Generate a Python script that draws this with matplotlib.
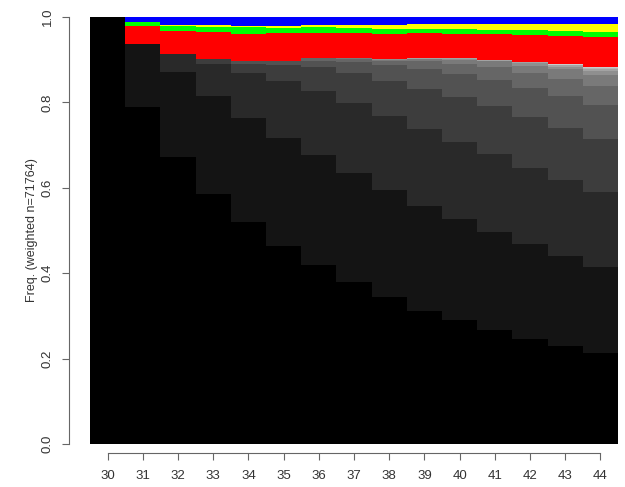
import matplotlib
matplotlib.use('Agg')
import numpy as np
import matplotlib.pyplot as plt

plt.rcParams['font.family'] = ['Liberation Sans', 'DejaVu Sans']

ages = list(range(30, 45))

# cumulative share at the top of each grey state (state 0 = black), by age
grey_tops = [
    [1.0],
    [0.789, 0.937],
    [0.671, 0.871, 0.913],
    [0.585, 0.814, 0.889, 0.902],
    [0.520, 0.763, 0.868, 0.891, 0.898],
    [0.464, 0.717, 0.849, 0.888, 0.896, 0.898],
    [0.419, 0.677, 0.827, 0.884, 0.898, 0.903, 0.905],
    [0.380, 0.635, 0.798, 0.870, 0.895, 0.902, 0.904, 0.905],
    [0.344, 0.595, 0.767, 0.851, 0.888, 0.897, 0.900, 0.901, 0.901],
    [0.312, 0.557, 0.738, 0.831, 0.878, 0.898, 0.901, 0.902, 0.903, 0.903],
    [0.290, 0.526, 0.708, 0.813, 0.867, 0.889, 0.900, 0.902, 0.903, 0.903, 0.903],
    [0.267, 0.497, 0.678, 0.792, 0.852, 0.882, 0.896, 0.898, 0.899, 0.899, 0.899, 0.899],
    [0.247, 0.468, 0.647, 0.765, 0.834, 0.868, 0.886, 0.892, 0.894, 0.894, 0.894, 0.894, 0.894],
    [0.230, 0.440, 0.618, 0.739, 0.816, 0.855, 0.878, 0.884, 0.887, 0.888, 0.889, 0.889, 0.889, 0.889],
    [0.212, 0.415, 0.589, 0.714, 0.794, 0.839, 0.863, 0.874, 0.879, 0.881, 0.882, 0.882, 0.882, 0.882, 0.882],
]

# cumulative share at the top of the coloured states
red_top = [1.0, 0.980, 0.968, 0.964, 0.961, 0.962, 0.962, 0.962, 0.961, 0.962, 0.960, 0.960, 0.958, 0.956, 0.953]
green_top = [1.0, 0.989, 0.980, 0.977, 0.977, 0.975, 0.977, 0.974, 0.973, 0.972, 0.972, 0.970, 0.970, 0.967, 0.964]
yellow_top = [1.0, 0.989, 0.981, 0.981, 0.980, 0.980, 0.981, 0.981, 0.981, 0.984, 0.983, 0.983, 0.983, 0.983, 0.983]

n_grey = max(len(t) for t in grey_tops)
x = np.arange(len(ages))

fig = plt.figure(figsize=(6.25, 4.87), dpi=100)
ax = fig.add_axes([90 / 625, 43 / 487, 528 / 625, 427 / 487])

# grey states, stacked from the bottom
for k in range(n_grey):
    xs, bots, hts = [], [], []
    for i, tops in enumerate(grey_tops):
        if k < len(tops):
            lo = tops[k - 1] if k > 0 else 0.0
            xs.append(x[i])
            bots.append(lo)
            hts.append(tops[k] - lo)
    g = min(k * 20.4, 235) / 255
    ax.bar(xs, hts, bottom=bots, width=1.0, color=(g, g, g), linewidth=0)

grey_end = np.array([t[-1] for t in grey_tops])
red_top = np.array(red_top)
green_top = np.array(green_top)
yellow_top = np.array(yellow_top)

ax.bar(x, red_top - grey_end, bottom=grey_end, width=1.0, color='#ff0000', linewidth=0)
ax.bar(x, green_top - red_top, bottom=red_top, width=1.0, color='#00ff00', linewidth=0)
ax.bar(x, yellow_top - green_top, bottom=green_top, width=1.0, color='#ffff00', linewidth=0)
ax.bar(x, 1.0 - yellow_top, bottom=yellow_top, width=1.0, color='#0000ff', linewidth=0)

ax.set_xlim(-0.5, len(ages) - 0.5)
ax.set_ylim(0, 1)

for s in ['top', 'right']:
    ax.spines[s].set_visible(False)
ax.spines['left'].set_position(('outward', 15))
ax.spines['bottom'].set_position(('outward', 6.5))
ax.spines['left'].set_bounds(0, 1)
ax.spines['bottom'].set_bounds(0, len(ages) - 1)
for s in ['left', 'bottom']:
    ax.spines[s].set_color('#666666')
    ax.spines[s].set_linewidth(0.8)

ax.set_xticks(x)
ax.set_xticklabels([str(a) for a in ages])
ax.set_yticks([0.0, 0.2, 0.4, 0.6, 0.8, 1.0])
ax.set_yticklabels(['0.0', '0.2', '0.4', '0.6', '0.8', '1.0'], rotation=90, va='center')
ax.tick_params(axis='both', colors='#666666', labelcolor='#333333', labelsize=9.5,
               length=5, width=0.8)
ax.tick_params(axis='x', pad=7)
ax.tick_params(axis='y', pad=6)

ax.set_ylabel('Freq. (weighted n=71764)', fontsize=9, color='#333333', labelpad=3)

fig.savefig('out.png', dpi=100)
